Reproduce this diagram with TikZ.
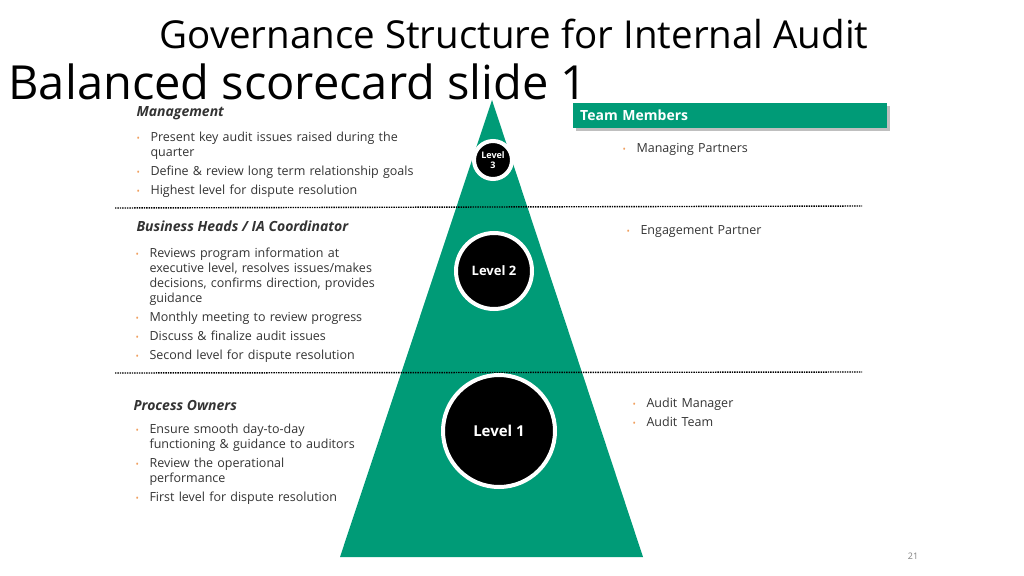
\documentclass[tikz,border=0pt]{standalone}
\usepackage{fontspec}
\setmainfont{Open Sans}
\usetikzlibrary{shadows}
\definecolor{tg}{HTML}{009B77}
\definecolor{bul}{HTML}{F0A060}
\definecolor{txt}{HTML}{333333}
\begin{document}
\begin{tikzpicture}[x=1pt,y=-1pt,
  lvl/.style={circle,fill=black,draw=white,line width=4pt,text=white,font=\bfseries,align=center,inner sep=0pt},
  head/.style={anchor=west,font=\fontsize{14}{16}\selectfont\bfseries\itshape,text=txt},
  blist/.style={anchor=north west,font=\fontsize{12.5}{15}\selectfont,text=txt,align=left,text width=#1},
  sep/.style={densely dotted,line width=1.4pt}]
\useasboundingbox (0,0) rectangle (1024,575);
\coordinate (ap) at (492,100); \coordinate (bl) at (340,557); \coordinate (br) at (643,557);
\fill[tg] (ap) -- (bl) -- (br) -- cycle;
\coordinate (s1a) at (115,208); \coordinate (s1b) at (862,206);
\coordinate (s2a) at (115,373); \coordinate (s2b) at (862,372);
\draw[sep] (s1a) -- (s1b);
\draw[sep] (s2a) -- (s2b);
\node[lvl,minimum size=38pt,font=\fontsize{9}{10}\selectfont\bfseries] (l3) at (493,160) {Level\\3};
\node[lvl,minimum size=76pt,font=\fontsize{13}{15}\selectfont\bfseries] (l2) at (494,271) {Level 2};
\node[lvl,minimum size=112pt,font=\fontsize{15}{17}\selectfont\bfseries] (l1) at (499,431) {Level 1};
\node[fill=tg,drop shadow,minimum width=314pt,minimum height=25pt,anchor=north west,text=white,font=\fontsize{14}{16}\selectfont\bfseries,align=left,text width=300pt] (tm) at (573,103) {Team Members};
\newcommand{\itm}[1]{\hangindent=14pt\hangafter=1\makebox[14pt][l]{\textcolor{bul}{\small\textbullet}}#1\par\vspace{4pt}}
\node[head] (h1) at (133,113) {Management};
\node[blist=290pt] (b1) at (133,128) {\raggedright\itm{Present key audit issues raised during the quarter}\itm{Define \& review long term relationship goals}\itm{Highest level for dispute resolution}};
\node[head] (h2) at (133,226) {Business Heads / IA Coordinator};
\node[blist=260pt] (b2) at (132,244) {\raggedright\itm{Reviews program information at executive level, resolves issues/makes decisions, confirms direction, provides guidance}\itm{Monthly meeting to review progress}\itm{Discuss \& finalize audit issues}\itm{Second level for dispute resolution}};
\node[head] (h3) at (130,405) {Process Owners};
\node[blist=228pt] (b3) at (132,420) {\raggedright\itm{Ensure smooth day-to-day functioning \& guidance to auditors}\itm{Review the operational performance}\itm{First level for dispute resolution}};
\node[blist=200pt] (r1) at (619,140) {\itm{Managing Partners}};
\node[blist=200pt] (r2) at (623,222) {\itm{Engagement Partner}};
\node[blist=200pt] (r3) at (629,394) {\itm{Audit Manager}\itm{Audit Team}};
\node[font=\fontsize{9}{10}\selectfont,text=gray] (pg) at (913,556) {21};
\node[font=\fontsize{38.5}{42}\selectfont,text=black] (t1) at (514,34) {Governance Structure for Internal Audit};
\node[font=\fontsize{47}{50}\selectfont,text=black,anchor=west] (t2) at (5,82) {Balanced scorecard slide 1};
\end{tikzpicture}
\end{document}
